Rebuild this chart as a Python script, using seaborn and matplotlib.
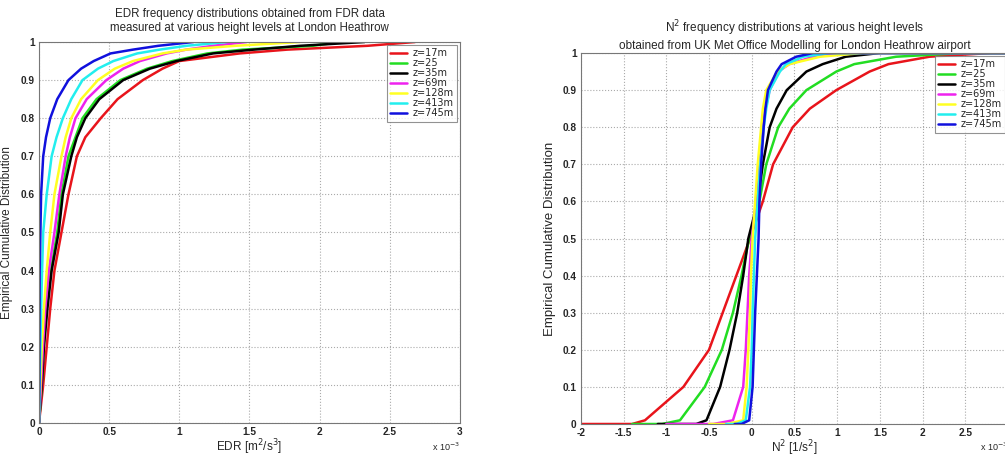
import pandas as pd
import seaborn as sns
import matplotlib.pyplot as plt
from matplotlib.ticker import FuncFormatter, MultipleLocator

# height levels and line colours
levels = ['z=17m', 'z=25', 'z=35m', 'z=69m', 'z=128m', 'z=413m', 'z=745m']
colors = ['#e8141b', '#22dd22', '#000000', '#ee22ee', '#ffff22', '#22eeee', '#1010dd']

# EDR empirical CDF (x in units of 1e-3 m^2/s^3)
edr_cdf = [0, 0.1, 0.2, 0.3, 0.4, 0.5, 0.6, 0.7, 0.75, 0.8, 0.85, 0.9, 0.93, 0.95, 0.97, 0.98, 0.99, 1.0]
edr_x = {
    'z=17m':  [0, 0.03, 0.055, 0.08, 0.11, 0.16, 0.21, 0.27, 0.33, 0.44, 0.56, 0.74, 0.88, 1.0, 1.43, 1.77, 2.34, 2.68],
    'z=25':   [0, 0.02, 0.033, 0.055, 0.085, 0.13, 0.16, 0.21, 0.26, 0.31, 0.41, 0.58, 0.77, 0.95, 1.2, 1.45, 1.95, 2.15],
    'z=35m':  [0, 0.02, 0.035, 0.06, 0.09, 0.14, 0.17, 0.23, 0.27, 0.33, 0.43, 0.60, 0.79, 0.98, 1.24, 1.53, 1.86, 2.32],
    'z=69m':  [0, 0.015, 0.028, 0.045, 0.07, 0.11, 0.145, 0.19, 0.22, 0.26, 0.34, 0.48, 0.60, 0.72, 0.91, 1.05, 1.24, 1.48],
    'z=128m': [0, 0.01, 0.02, 0.035, 0.055, 0.08, 0.11, 0.16, 0.19, 0.23, 0.30, 0.42, 0.54, 0.67, 0.88, 1.05, 1.4, 1.86],
    'z=413m': [0, 0.005, 0.01, 0.015, 0.022, 0.03, 0.055, 0.09, 0.125, 0.17, 0.23, 0.31, 0.42, 0.53, 0.70, 0.86, 1.05, 1.34],
    'z=745m': [0, 0.002, 0.003, 0.004, 0.005, 0.01, 0.015, 0.03, 0.05, 0.08, 0.13, 0.21, 0.30, 0.39, 0.51, 0.67, 0.85, 1.10],
}

# N^2 empirical CDF (x in units of 1e-3 1/s^2)
n2_cdf = [0, 0, 0.01, 0.1, 0.2, 0.3, 0.4, 0.5, 0.6, 0.7, 0.8, 0.85, 0.9, 0.95, 0.97, 0.99, 1.0, 1.0]
n2_x = {
    'z=17m':  [-2.0, -1.4, -1.25, -0.8, -0.5, -0.34, -0.18, -0.02, 0.13, 0.25, 0.48, 0.68, 0.99, 1.38, 1.6, 2.08, 2.8, 3.0],
    'z=25':   [-1.4, -1.05, -0.84, -0.55, -0.35, -0.22, -0.12, -0.03, 0.09, 0.17, 0.31, 0.44, 0.64, 0.99, 1.2, 1.69, 2.47, 3.0],
    'z=35m':  [-1.1, -0.65, -0.53, -0.37, -0.26, -0.17, -0.10, -0.04, 0.07, 0.13, 0.21, 0.29, 0.41, 0.64, 0.83, 1.1, 1.5, 3.0],
    'z=69m':  [-1.0, -0.45, -0.22, -0.10, -0.07, -0.05, -0.03, 0.0, 0.05, 0.09, 0.13, 0.16, 0.21, 0.31, 0.44, 0.72, 1.1, 3.0],
    'z=128m': [-0.5, -0.29, -0.10, -0.06, -0.04, -0.02, -0.01, 0.01, 0.04, 0.07, 0.11, 0.13, 0.17, 0.30, 0.44, 0.80, 1.3, 3.0],
    'z=413m': [-0.3, -0.18, -0.07, -0.02, 0.0, 0.01, 0.025, 0.04, 0.07, 0.10, 0.14, 0.17, 0.21, 0.33, 0.40, 0.60, 0.91, 3.0],
    'z=745m': [-0.2, -0.12, -0.03, 0.01, 0.025, 0.04, 0.06, 0.08, 0.09, 0.11, 0.14, 0.16, 0.19, 0.29, 0.35, 0.52, 0.72, 3.0],
}


def to_long(xs, cdf):
    rows = []
    for lev in levels:
        for x, y in zip(xs[lev], cdf):
            rows.append({'level': lev, 'x': x, 'cdf': y})
    return pd.DataFrame(rows)


edr = to_long(edr_x, edr_cdf)
n2 = to_long(n2_x, n2_cdf)

sns.set_style('white')
plt.rcParams['font.family'] = ['Liberation Sans', 'DejaVu Sans']

fig = plt.figure(figsize=(10.05, 4.57), dpi=100)
ax1 = fig.add_axes([0.0388, 0.0744, 0.4189, 0.8337])
ax2 = fig.add_axes([0.578, 0.0722, 0.425, 0.8118])

pal = dict(zip(levels, colors))
fmt = FuncFormatter(lambda v, p: '%g' % round(v, 3))

for ax, df, xlim in [(ax1, edr, (0, 3)), (ax2, n2, (-2, 3))]:
    sns.lineplot(data=df, x='x', y='cdf', hue='level', palette=pal, units='level',
                 estimator=None, sort=False, linewidth=1.8, ax=ax)
    ax.set_xlim(*xlim)
    ax.set_ylim(0, 1)
    ax.xaxis.set_major_locator(MultipleLocator(0.5))
    ax.yaxis.set_major_locator(MultipleLocator(0.1))
    ax.xaxis.set_major_formatter(fmt)
    ax.yaxis.set_major_formatter(fmt)
    ax.grid(True, linestyle=':', color='#aaaaaa', linewidth=0.8)
    ax.tick_params(direction='in', labelsize=7.3, length=3, pad=3)
    for lab in ax.get_xticklabels() + ax.get_yticklabels():
        lab.set_fontweight('bold')
    for s in ax.spines.values():
        s.set_color('#777777')
        s.set_linewidth(0.8)
    leg = ax.legend(loc='upper right', prop={'family': 'DejaVu Sans', 'size': 7},
                    frameon=True, fancybox=False,
                    handlelength=1.7, borderaxespad=0.3, labelspacing=0.0,
                    borderpad=0.35, handletextpad=0.6)
    leg.get_frame().set_edgecolor('#777777')
    leg.get_frame().set_linewidth(0.8)
    for h in leg.get_lines():
        h.set_linewidth(1.8)

ax1.set_ylabel('Empirical Cumulative Distribution', fontsize=8.5)
ax2.set_ylabel('Empirical Cumulative Distribution', fontsize=9.5)
ax1.yaxis.set_label_coords(-0.062, 0.5)
ax2.yaxis.set_label_coords(-0.058, 0.5)
ax1.set_xlabel('EDR [m$^2$/s$^3$]', fontsize=8.5, labelpad=0)
ax2.set_xlabel('N$^2$ [1/s$^2$]', fontsize=8.5, labelpad=0)
ax1.set_title('EDR frequency distributions obtained from FDR data\nmeasured at various height levels at London Heathrow',
              fontsize=8.3, pad=8)
ax2.set_title('N$^2$ frequency distributions at various height levels\n'
              'obtained from UK Met Office Modelling for London Heathrow airport',
              fontsize=8.5, pad=3)
ax1.text(1.0, -0.045, 'x 10$^{-3}$', transform=ax1.transAxes, ha='right', va='top', fontsize=6.5)
ax2.text(1.0, -0.045, 'x 10$^{-3}$', transform=ax2.transAxes, ha='right', va='top', fontsize=6.5)

fig.savefig('out.png', dpi=100)
